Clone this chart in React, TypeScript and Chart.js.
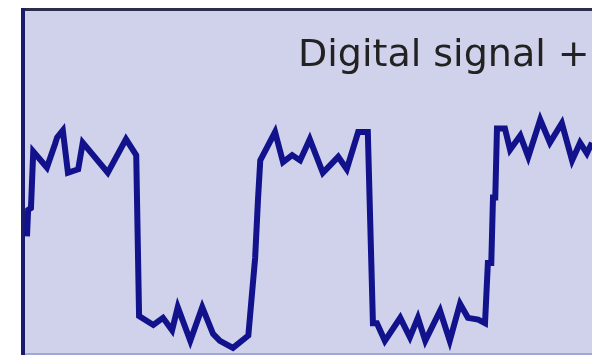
import React, { useEffect, useRef } from "react";
import { Chart, registerables } from "chart.js";

Chart.register(...registerables);

// Time (arbitrary units, 0..100 across the visible window) and amplitude (low ≈ 0, high ≈ 1)
const times: number[] = [
  0.7, 0.9, 1.4, 1.8, 4.2, 5.6, 6.0, 7.0, 7.9, 9.7, 10.5, 14.9, 18.1, 19.9,
  20.4, 22.9, 24.6, 26.2, 27.2, 29.4, 31.5, 33.4, 34.6, 36.9, 39.6,
  40.8, 41.3, 41.7, 44.3, 45.7, 47.3, 48.7, 50.4, 52.7, 55.4, 56.9, 58.9, 60.6,
  61.5, 62.2, 63.6, 66.3, 68.0, 69.4, 70.7, 73.3, 75.0, 76.8, 78.2, 80.0, 81.2,
  81.7, 82.3, 82.6, 83.0, 83.3, 84.7, 85.6, 87.4, 88.8, 90.9, 92.6, 94.7, 96.5,
  97.9, 99.1, 100.0, 101.5,
];
const signal: number[] = [
  0.52, 0.67, 0.68, 1.0, 0.91, 1.04, 1.08, 1.12, 0.88, 0.9, 1.05, 0.88, 1.07, 0.98,
  0.07, 0.02, 0.06, -0.01, 0.12, -0.07, 0.12, -0.03, -0.07, -0.11, -0.04,
  0.4, 0.73, 0.95, 1.11, 0.94, 0.98, 0.95, 1.07, 0.88, 0.97, 0.9, 1.11, 1.11,
  0.03, 0.03, -0.07, 0.06, -0.05, 0.06, -0.07, 0.1, -0.07, 0.14, 0.06, 0.05, 0.03,
  0.37, 0.37, 0.74, 0.74, 1.13, 1.13, 1.01, 1.09, 0.97, 1.18, 1.05, 1.16, 0.95,
  1.05, 0.99, 1.05, 1.0,
];
const titleText = "Digital signal +";

const framePlugin = {
  id: "frame",
  beforeDraw(chart: any) {
    const { ctx, chartArea: a } = chart;
    ctx.save();
    ctx.fillStyle = "#d0d2ec";
    ctx.fillRect(a.left, a.top, a.right - a.left, a.bottom - a.top);
    // bottom edge
    ctx.fillStyle = "#a3a7d8";
    ctx.fillRect(a.left, a.bottom - 2, a.right - a.left, 2);
    // top border
    ctx.fillStyle = "#2c2c4c";
    ctx.fillRect(a.left - 2, a.top - 2, a.right - a.left + 2, 3);
    // left border
    ctx.fillStyle = "#1b1b6e";
    ctx.fillRect(a.left - 2, a.top - 2, 4, a.bottom - a.top + 2);
    // caption
    ctx.fillStyle = "#222222";
    ctx.font = "38px 'DejaVu Sans'";
    ctx.textAlign = "left";
    ctx.textBaseline = "alphabetic";
    ctx.fillText(titleText, a.left + 275, a.top + 56);
    ctx.restore();
  },
};

export default function App() {
  const ref = useRef<HTMLCanvasElement | null>(null);
  useEffect(() => {
    document.body.style.margin = "0";
    const canvas = ref.current!;
    const chart = new Chart(canvas, {
      type: "scatter",
      data: {
        datasets: [
          {
            data: times.map((t, i) => ({ x: t, y: signal[i] })),
            showLine: true,
            borderColor: "#11128c",
            borderWidth: 6,
            borderJoinStyle: "miter",
            borderCapStyle: "butt",
            pointRadius: 0,
            tension: 0,
            fill: false,
          },
        ],
      },
      options: {
        responsive: false,
        animation: false,
        devicePixelRatio: 1,
        layout: { padding: { left: 23, top: 10, right: 0, bottom: 0 } },
        plugins: {
          legend: { display: false },
          tooltip: { enabled: false },
          title: { display: false },
        },
        scales: {
          x: { type: "linear", min: 0, max: 100, display: false },
          y: { type: "linear", min: -0.15, max: 1.8, display: false },
        },
      },
      plugins: [framePlugin],
    });
    return () => chart.destroy();
  }, []);
  return (
    <div style={{ position: "fixed", left: 0, top: 0, width: 592, height: 355, overflow: "hidden" }}>
      <canvas ref={ref} width={592} height={355} style={{ display: "block" }} />
    </div>
  );
}
